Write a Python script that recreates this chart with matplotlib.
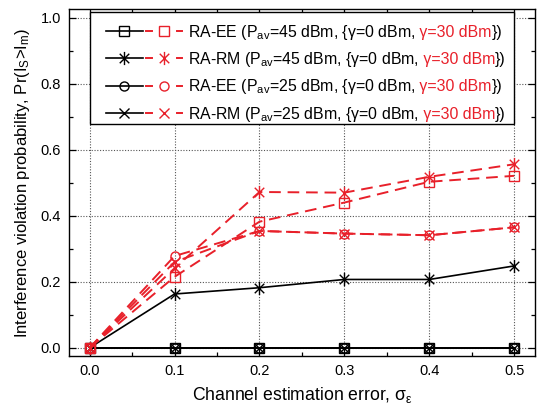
import matplotlib
matplotlib.use("Agg")
import matplotlib.pyplot as plt
from matplotlib.lines import Line2D
from matplotlib.path import Path
from matplotlib.offsetbox import (AnchoredOffsetbox, DrawingArea, TextArea,
                                  HPacker, VPacker)
from matplotlib.ticker import MultipleLocator, FormatStrFormatter

plt.rcParams['font.family'] = ['Liberation Sans', 'DejaVu Sans']
plt.rcParams['mathtext.fontset'] = 'custom'
plt.rcParams['mathtext.rm'] = 'Liberation Sans'
plt.rcParams['mathtext.it'] = 'Liberation Sans:italic'
plt.rcParams['mathtext.default'] = 'regular'

# Data
sigma = [0.0, 0.1, 0.2, 0.3, 0.4, 0.5]
ee45_g0 = [0.0, 0.0, 0.0, 0.0, 0.0, 0.0]
rm45_g0 = [0.0, 0.163, 0.182, 0.207, 0.207, 0.248]
ee25_g0 = [0.0, 0.0, 0.0, 0.0, 0.0, 0.0]
rm25_g0 = [0.0, 0.0, 0.0, 0.0, 0.0, 0.0]
ee45_g30 = [0.0, 0.215, 0.382, 0.440, 0.503, 0.521]
rm45_g30 = [0.0, 0.241, 0.472, 0.470, 0.518, 0.556]
ee25_g30 = [0.0, 0.278, 0.354, 0.346, 0.341, 0.365]
rm25_g30 = [0.0, 0.260, 0.354, 0.346, 0.341, 0.365]

labels_black = ["RA-EE (P$_{av}$=45 dBm, {\u03b3=0 dBm,",
                "RA-RM (P$_{av}$=45 dBm, {\u03b3=0 dBm,",
                "RA-EE (P$_{av}$=25 dBm, {\u03b3=0 dBm,",
                "RA-RM (P$_{av}$=25 dBm, {\u03b3=0 dBm,"]
label_red = " \u03b3=30 dBm"
label_end = "})"

RED = '#e8202a'
asterisk = Path([(0, -1), (0, 1), (-0.72, -0.72), (0.72, 0.72),
                 (-0.72, 0.72), (0.72, -0.72)],
                [Path.MOVETO, Path.LINETO] * 3)
markers = ['s', asterisk, 'o', 'x']
msizes = [6.5, 9.5, 6.5, 7.5]
DASH = (0, (6, 3.5))
FS = 11.4

fig = plt.figure(figsize=(5.37, 4.11), dpi=100)
ax = fig.add_axes([0.129, 0.1345, 0.868, 0.8425])

black_series = [ee45_g0, rm45_g0, ee25_g0, rm25_g0]
red_series = [ee45_g30, rm45_g30, ee25_g30, rm25_g30]

for ys, m, ms in zip(black_series, markers, msizes):
    ax.plot(sigma, ys, color='black', lw=1.2, marker=m, ms=ms,
            mfc='none', mec='black', mew=1.0, zorder=3)
for ys, m, ms in zip(red_series, markers, msizes):
    ax.plot(sigma, ys, color=RED, lw=1.4, ls=DASH, marker=m, ms=ms,
            mfc='none', mec=RED, mew=1.0, zorder=4)

ax.set_xlim(-0.024, 0.525)
ax.set_ylim(-0.024, 1.025)
ax.xaxis.set_major_locator(MultipleLocator(0.1))
ax.xaxis.set_minor_locator(MultipleLocator(0.05))
ax.yaxis.set_major_locator(MultipleLocator(0.2))
ax.yaxis.set_minor_locator(MultipleLocator(0.1))
ax.xaxis.set_major_formatter(FormatStrFormatter('%.1f'))
ax.yaxis.set_major_formatter(FormatStrFormatter('%.1f'))
ax.tick_params(which='both', direction='in', top=True, right=True, labelsize=10.5,
               width=0.9, colors='black')
ax.tick_params(which='major', length=5, pad=6)
ax.tick_params(which='minor', length=3)
ax.grid(True, which='major', ls=(0, (1, 1.5)), color='#555555', lw=0.8)
for s in ax.spines.values():
    s.set_linewidth(1.0)

ax.set_xlabel("Channel estimation error, \u03c3$_{\u03b5}$", fontsize=12.7, labelpad=5)
ax.set_ylabel("Interference violation probability, Pr(I$_{S}$>I$_{m}$)", fontsize=12, labelpad=6)

# Legend built from offset boxes (mixed-colour labels)
rows = []
W = 55.4   # handle width in points
ymid = 4.1
for i in range(4):
    da = DrawingArea(W, 13, 0, 4)
    m, ms = markers[i], msizes[i]
    da.add_artist(Line2D([0, 26.6], [ymid, ymid], color='black', lw=1.2))
    da.add_artist(Line2D([13.3], [ymid], color='black', marker=m, ms=ms,
                         mfc='none', mec='black', mew=1.0, ls='none'))
    da.add_artist(Line2D([29.0, 33.0], [ymid, ymid], color=RED, lw=1.4))
    da.add_artist(Line2D([51.0, 55.0], [ymid, ymid], color=RED, lw=1.4))
    da.add_artist(Line2D([42.0], [ymid], color=RED, marker=m, ms=ms,
                         mfc='none', mec=RED, mew=1.0, ls='none'))
    t1 = TextArea(labels_black[i], textprops=dict(color='black', fontsize=FS))
    t2 = TextArea(label_red, textprops=dict(color=RED, fontsize=FS))
    t3 = TextArea(label_end, textprops=dict(color='black', fontsize=FS))
    txt = HPacker(children=[t1, t2, t3], align='baseline', pad=0, sep=0)
    rows.append(HPacker(children=[da, txt], align='baseline', pad=0, sep=3.6))
top_space = DrawingArea(1, 2.2, 0, 0)
box = VPacker(children=[top_space] + rows, align='left', pad=0, sep=5.5)
outer = HPacker(children=[DrawingArea(11.0, 1, 0, 0), box, DrawingArea(5.8, 1, 0, 0)],
                align='top', pad=0, sep=0)
anch = AnchoredOffsetbox(loc='upper left', child=outer, pad=0.0, borderpad=0,
                         frameon=True, bbox_to_anchor=(0.0455, 0.992),
                         bbox_transform=ax.transAxes)
anch.patch.set_edgecolor('black')
anch.patch.set_linewidth(1.0)
anch.patch.set_boxstyle('square', pad=0)
anch.set_zorder(10)
ax.add_artist(anch)

fig.savefig('out.png', dpi=100)
